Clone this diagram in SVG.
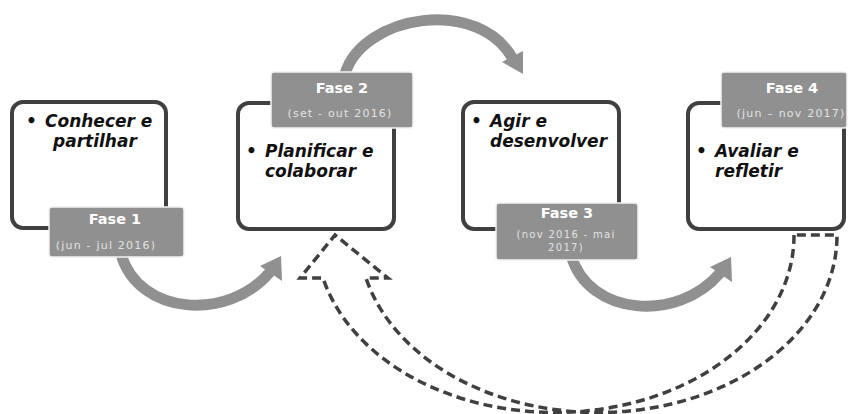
<svg xmlns="http://www.w3.org/2000/svg" width="850" height="414" viewBox="0 0 850 414">
<style>
.node{fill:#ffffff;stroke:#404040;stroke-width:4}
.fase{fill:#909090;stroke:#f2f2f2;stroke-width:1.5}
.bt{font-family:"DejaVu Sans",sans-serif;font-size:17px;font-weight:bold;font-style:italic;fill:#111111}
.ft{font-family:"DejaVu Sans",sans-serif;font-size:14.5px;font-weight:bold;fill:#ffffff;text-anchor:middle}
.st{font-family:"DejaVu Sans",sans-serif;font-size:11px;fill:#e2e2e2;text-anchor:middle;letter-spacing:1.2px}
.st2{font-family:"DejaVu Sans",sans-serif;font-size:10px;fill:#e2e2e2;text-anchor:middle;letter-spacing:1.3px}
.shaft{fill:none;stroke:#909090;stroke-width:11}
.head{fill:#909090}
.dash{fill:none;stroke:#404040;stroke-width:3.5;stroke-dasharray:9 5}
</style>
<g id="connectors">
  <g id="arrow1">
    <path class="shaft" d="M121,254 C138,315 228,322 270,272"/>
    <polygon class="head" points="281,256 260,266 282,281"/>
  </g>
  <g id="arrow2">
    <path class="shaft" d="M345,74 C362,15 480,-5 514,61"/>
    <polygon class="head" points="523,74 502,62 523,51"/>
  </g>
  <g id="arrow3" transform="translate(450,1)">
    <path class="shaft" d="M121,254 C138,315 228,322 270,272"/>
    <polygon class="head" points="281,256 260,266 282,281"/>
  </g>
  <path id="feedback" class="dash" d="M794,235 A239,177 0 0 1 323,278 L300,278 L335,235 L388,278 L366,278 A239,177 0 0 0 837,235 Z"/>
</g>
<g id="node1">
  <rect class="node" x="12" y="102" width="154" height="126" rx="11"/>
  <text class="bt" x="26" y="127">•</text>
  <text class="bt" x="45" y="127">Conhecer e</text>
  <text class="bt" x="53" y="147">partilhar</text>
</g>
<g id="node2">
  <rect class="node" x="238" y="103" width="156" height="126" rx="11"/>
  <text class="bt" x="246" y="157">•</text>
  <text class="bt" x="265" y="157">Planificar e</text>
  <text class="bt" x="265" y="177">colaborar</text>
</g>
<g id="node3">
  <rect class="node" x="463" y="102" width="156" height="127" rx="11"/>
  <text class="bt" x="471" y="127">•</text>
  <text class="bt" x="490" y="127">Agir e</text>
  <text class="bt" x="490" y="147">desenvolver</text>
</g>
<g id="node4">
  <rect class="node" x="688" y="103" width="156" height="126" rx="11"/>
  <text class="bt" x="696" y="157">•</text>
  <text class="bt" x="715" y="157">Avaliar e</text>
  <text class="bt" x="715" y="177">refletir</text>
</g>
<g id="fase1">
  <rect class="fase" x="49" y="207" width="135" height="50" rx="3"/>
  <text class="ft" x="115" y="224">Fase 1</text>
  <text class="st" x="106" y="249">(jun - jul 2016)</text>
</g>
<g id="fase2">
  <rect class="fase" x="271" y="72" width="142" height="56" rx="3"/>
  <text class="ft" x="342" y="93">Fase 2</text>
  <text class="st" x="340" y="117">(set - out 2016)</text>
</g>
<g id="fase3">
  <rect class="fase" x="496" y="203" width="142" height="57" rx="3"/>
  <text class="ft" x="567" y="218">Fase 3</text>
  <text class="st2" x="566" y="238">(nov 2016 - mai</text>
  <text class="st2" x="566" y="251">2017)</text>
</g>
<g id="fase4">
  <rect class="fase" x="721" y="72" width="126" height="56" rx="3"/>
  <text class="ft" x="792" y="93">Fase 4</text>
  <text class="st" x="791" y="117">(jun – nov 2017)</text>
</g>
</svg>
